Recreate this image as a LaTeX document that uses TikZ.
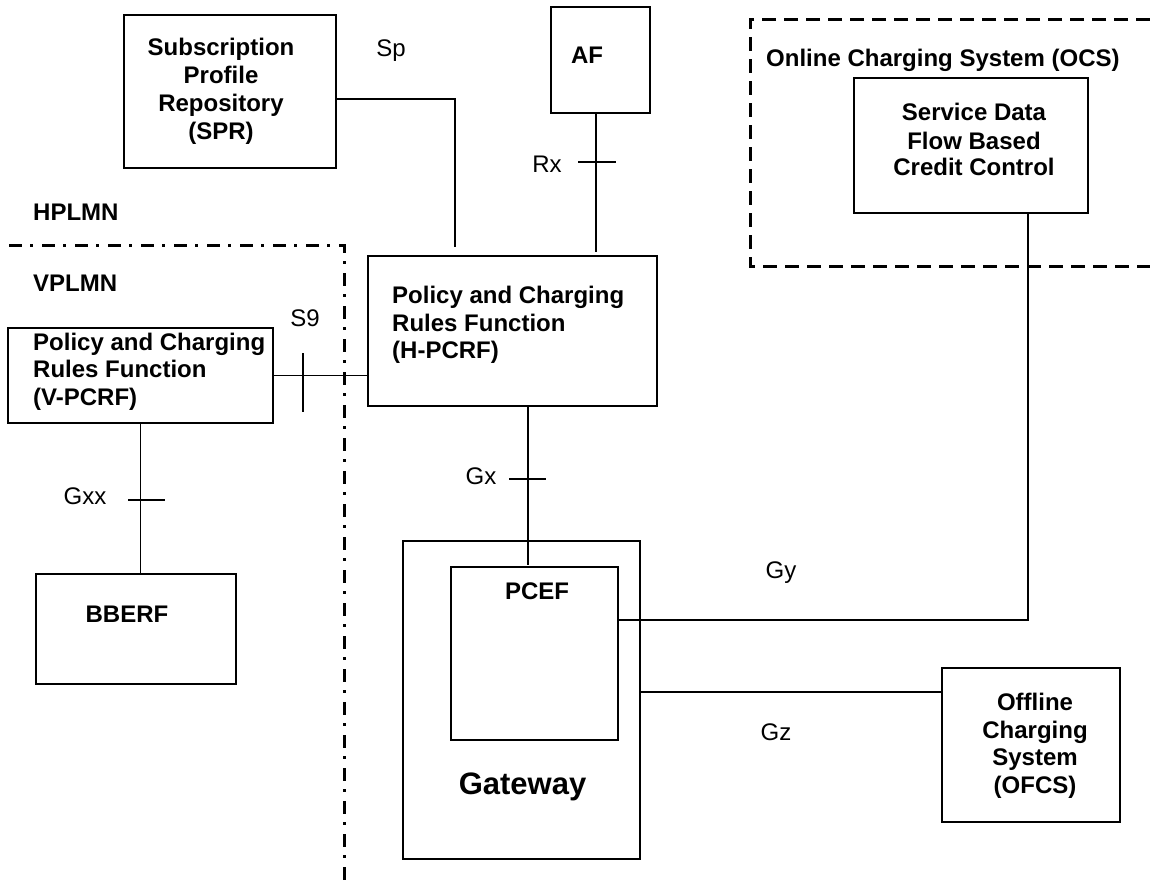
\documentclass[tikz,border=0pt]{standalone}
\usepackage{fontspec}
\setmainfont{Liberation Sans}
\begin{document}
\begin{tikzpicture}[x=1pt,y=-1pt,
  box/.style={draw, line width=1.3pt, inner sep=0pt, outer sep=0pt},
  conn/.style={line width=1.3pt},
  tick/.style={line width=1.1pt},
  bl/.style={inner sep=0pt, anchor=base, font=\fontsize{24}{28}\selectfont\bfseries},
  bll/.style={inner sep=0pt, anchor=base west, font=\fontsize{24}{28}\selectfont\bfseries},
  rl/.style={inner sep=0pt, anchor=base, font=\fontsize{24}{28}\selectfont},
  ocsline/.style={line width=3pt, dash pattern=on 14pt off 8pt},
  plmnline/.style={line width=3pt, dash pattern=on 13pt off 8pt on 3pt off 9pt}
]
\fill[white] (0,0) rectangle (1150,881);
\useasboundingbox (0,0) rectangle (1150,881);

% boxes
\node[box, minimum width=212pt, minimum height=153pt] (spr) at (230,91.5) {};
\node[box, minimum width=99pt, minimum height=106pt] (af) at (600.5,60) {};
\node[box, minimum width=289pt, minimum height=150pt] (hpcrf) at (512.5,331) {};
\node[box, minimum width=265pt, minimum height=95pt] (vpcrf) at (140.5,375.5) {};
\node[box, minimum width=200pt, minimum height=110pt] (bberf) at (136,629) {};
\node[box, minimum width=237pt, minimum height=318pt] (gw) at (521.5,700) {};
\node[box, minimum width=167pt, minimum height=173pt] (pcef) at (534.5,653.5) {};
\node[box, minimum width=178pt, minimum height=154pt] (ofcs) at (1031,745) {};
\node[box, minimum width=234pt, minimum height=135pt] (sdf) at (971,145.5) {};

% OCS dashed region and PLMN border
\draw[ocsline] (1150,19) -- (750,19) -- (750,266) -- (1150,266);
\draw[plmnline] (9,245) -- (344,245) -- (344,881);

% texts
\node[bl] (spr1) at (221,55.6) {Subscription};
\node[bl] (spr2) at (221,83.6) {Profile};
\node[bl] (spr3) at (221,111.6) {Repository};
\node[bl] (spr4) at (221,139.6) {(SPR)};
\node[bl] (aft) at (587,63.6) {AF};
\node[bll] (hpl) at (33,220.6) {HPLMN};
\node[bll] (vpl) at (33,291.6) {VPLMN};
\node[bll] (hp1) at (392,303.3) {Policy and Charging};
\node[bll] (hp2) at (392,331) {Rules Function};
\node[bll] (hp3) at (392,358.6) {(H-PCRF)};
\node[bll] (vp1) at (33,350.6) {Policy and Charging};
\node[bll] (vp2) at (33,377.8) {Rules Function};
\node[bll] (vp3) at (33,405.8) {(V-PCRF)};
\node[bl] (bbt) at (127,622.3) {BBERF};
\node[bl] (pct) at (537,599.6) {PCEF};
\node[inner sep=0pt, anchor=base, font=\fontsize{31}{36}\selectfont\bfseries] (gwt) at (522.5,794) {Gateway};
\node[bl] (of1) at (1035,710) {Offline};
\node[bl] (of2) at (1035,738) {Charging};
\node[bl] (of3) at (1035,765) {System};
\node[bl] (of4) at (1035,793.6) {(OFCS)};
\node[bll] (ocst) at (766,66.3) {Online Charging System (OCS)};
\node[bl] (sd1) at (974,120.3) {Service Data};
\node[bl] (sd2) at (974,149.3) {Flow Based};
\node[bl] (sd3) at (974,175.6) {Credit Control};

\node[rl] (spl) at (391,56.6) {Sp};
\node[rl] (rxl) at (547,172) {Rx};
\node[rl] (s9l) at (305,326.6) {S9};
\node[rl] (gxxl) at (85,504.3) {Gxx};
\node[rl] (gxl) at (481,484.4) {Gx};
\node[rl] (gyl) at (781,578.6) {Gy};
\node[rl] (gzl) at (776,740) {Gz};

% connectors
\coordinate (spend) at (455,247);
\draw[conn] ([yshift=-7.5pt]spr.east) -| (spend);

\coordinate (rxend) at (596,252);
\draw[conn] ([xshift=-4.5pt]af.south) -- (rxend);
\coordinate (rxt) at (596,162);
\draw[tick] ([xshift=-18pt]rxt) -- ([xshift=20pt]rxt);

\draw[conn] (vpcrf.east) -- (vpcrf.east -| hpcrf.west);
\coordinate (s9t) at (303,382.5);
\draw[tick] ([yshift=29.5pt]s9t) -- ([yshift=-29.5pt]s9t);

\draw[conn] (vpcrf.south) -- (vpcrf.south |- bberf.north);
\coordinate (gxxt) at (140,500);
\draw[tick] ([xshift=-12pt]gxxt) -- ([xshift=25pt]gxxt);

\coordinate (gxend) at (528,565);
\draw[conn] (hpcrf.south -| gxend) -- (gxend);
\coordinate (gxt) at (528,479);
\draw[tick] ([xshift=-19pt]gxt) -- ([xshift=18pt]gxt);

\coordinate (gyc) at (1028,620);
\draw[conn] (pcef.east |- gyc) -- (gyc) -- (sdf.south -| gyc);

\coordinate (gzy) at (700,692);
\draw[conn] (gw.east |- gzy) -- (ofcs.west |- gzy);
\end{tikzpicture}
\end{document}
